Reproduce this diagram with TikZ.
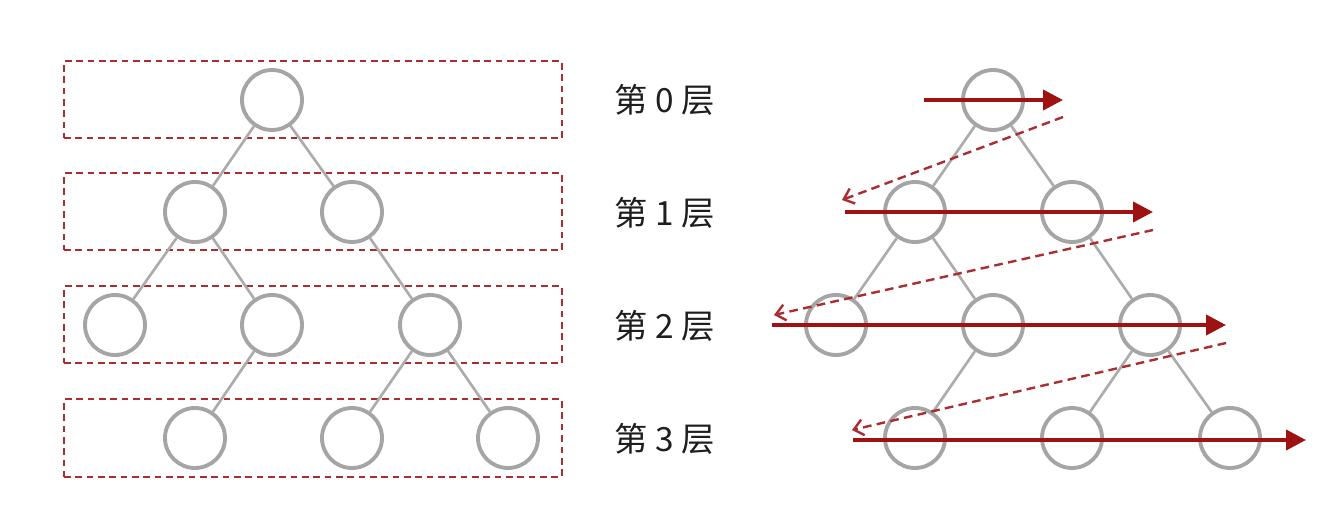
\documentclass[tikz,border=0pt]{standalone}
\usepackage{fontspec}
\newfontfamily\cjk{Noto Sans CJK SC}
\usetikzlibrary{arrows.meta}
\definecolor{nodegray}{RGB}{165,165,165}
\definecolor{edgegray}{RGB}{172,172,172}
\definecolor{scanred}{RGB}{158,18,18}
\definecolor{dashred}{RGB}{170,45,50}
\definecolor{textdark}{RGB}{30,30,30}

\begin{document}
\begin{tikzpicture}[x=0.75pt, y=-0.75pt,
    treenode/.style={circle, draw=nodegray, line width=2.9pt, fill=white, minimum size=45pt, inner sep=0pt},
    treeedge/.style={draw=edgegray, line width=2pt},
    levelbox/.style={draw=dashred, dash pattern=on 5pt off 3.5pt, line width=1.5pt, minimum width=373.5pt, minimum height=57.75pt, inner sep=0pt},
    levellabel/.style={font=\cjk\fontsize{25}{29}\selectfont, text=textdark},
    scanline/.style={draw=scanred, line width=3pt, -{Triangle[length=15pt,width=15pt]}},
    backline/.style={draw=dashred, dash pattern=on 6.5pt off 4pt, line width=1.8pt, -{Straight Barb[length=7pt,width=12pt]}}]
    \useasboundingbox (0,0) rectangle (1327,530);

    % level boxes
    \node[levelbox] (box0) at (313,100) {};
    \node[levelbox] (box1) at (313,212) {};
    \node[levelbox] (box2) at (313,325) {};
    \node[levelbox] (box3) at (313,438) {};

    % left tree
    \node[treenode] (la) at (272,100) {};
    \node[treenode] (lb) at (195,212) {};
    \node[treenode] (lc) at (352,212) {};
    \node[treenode] (ld) at (115,325) {};
    \node[treenode] (le) at (272,325) {};
    \node[treenode] (lf) at (430,325) {};
    \node[treenode] (lg) at (195,438) {};
    \node[treenode] (lh) at (352,438) {};
    \node[treenode] (li) at (508,438) {};

    \draw[treeedge] (la) -- (lb);
    \draw[treeedge] (la) -- (lc);
    \draw[treeedge] (lb) -- (ld);
    \draw[treeedge] (lb) -- (le);
    \draw[treeedge] (lc) -- (lf);
    \draw[treeedge] (le) -- (lg);
    \draw[treeedge] (lf) -- (lh);
    \draw[treeedge] (lf) -- (li);

    % labels
    \node[levellabel] (lv0) at (665,100) {第 0 层};
    \node[levellabel] (lv1) at (665,213) {第 1 层};
    \node[levellabel] (lv2) at (665,326) {第 2 层};
    \node[levellabel] (lv3) at (665,439) {第 3 层};

    % right tree
    \node[treenode] (ra) at (993,100) {};
    \node[treenode] (rb) at (915,212) {};
    \node[treenode] (rc) at (1072,212) {};
    \node[treenode] (rd) at (836,325) {};
    \node[treenode] (re) at (993,325) {};
    \node[treenode] (rf) at (1150,325) {};
    \node[treenode] (rg) at (915,438) {};
    \node[treenode] (rh) at (1072,438) {};
    \node[treenode] (ri) at (1230,438) {};

    \draw[treeedge] (ra) -- (rb);
    \draw[treeedge] (ra) -- (rc);
    \draw[treeedge] (rb) -- (rd);
    \draw[treeedge] (rb) -- (re);
    \draw[treeedge] (rc) -- (rf);
    \draw[treeedge] (re) -- (rg);
    \draw[treeedge] (rf) -- (rh);
    \draw[treeedge] (rf) -- (ri);

    % scan order
    \coordinate (s0) at (924,100);  \coordinate (e0) at (1063,100);
    \coordinate (s1) at (845,212);  \coordinate (e1) at (1153,212);
    \coordinate (s2) at (772,325);  \coordinate (e2) at (1226,325);
    \coordinate (s3) at (853,440);  \coordinate (e3) at (1306,440);
    \coordinate (b0) at (1063,117); \coordinate (f0) at (842,200);
    \coordinate (b1) at (1153,230); \coordinate (f1) at (774,315);
    \coordinate (b2) at (1226,343); \coordinate (f2) at (852,430);

    \draw[backline] (b0) -- (f0);
    \draw[backline] (b1) -- (f1);
    \draw[backline] (b2) -- (f2);
    \draw[scanline] (s0) -- (e0);
    \draw[scanline] (s1) -- (e1);
    \draw[scanline] (s2) -- (e2);
    \draw[scanline] (s3) -- (e3);
\end{tikzpicture}
\end{document}
